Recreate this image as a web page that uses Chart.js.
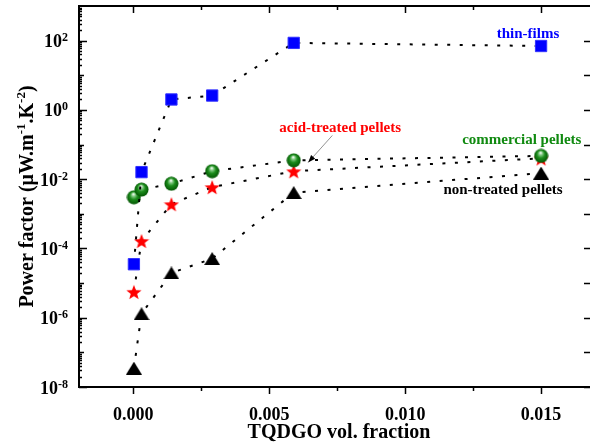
<!DOCTYPE html>
<html>
<head>
  <meta charset="utf-8">
  <title>Power factor vs TQDGO vol. fraction</title>
  <script src="https://cdn.jsdelivr.net/npm/chart.js"></script>
  <style>
    body { margin: 0; background: #fff; }
    #wrap { width: 590px; height: 447px; }
  </style>
</head>
<body>
  <div id="wrap"><canvas id="pf"></canvas></div>

  <script>
    // TQDGO volume fractions (same for every series)
    var fractions = [0.00002, 0.0003, 0.0014, 0.0029, 0.0059, 0.015];

    // power factor, uW m-1 K-2
    var thinFilms   = [3.5e-5, 0.016, 2.0, 2.6, 86, 70];
    var commercial  = [0.0030, 0.0050, 0.0074, 0.017, 0.035, 0.047];
    var acidTreated = [5.6e-6, 1.65e-4, 0.0019, 0.0059, 0.017, 0.040];
    var nonTreated  = [3.5e-8, 1.3e-6, 1.96e-5, 5.1e-5, 0.0041, 0.015];

    // axis ticks
    var xTicks = [0, 0.005, 0.010, 0.015];
    var yExponents = [-8, -6, -4, -2, 0, 2];

    // series labels written inside the plot (data coordinates)
    var notes = [
      { text: 'thin-films',          x: 0.01452, y: 159,   color: '#0000ff' },
      { text: 'acid-treated pellets', x: 0.00761, y: 0.29,  color: '#ff0000' },
      { text: 'commercial pellets',  x: 0.01429, y: 0.131, color: '#108a10' },
      { text: 'non-treated pellets', x: 0.0136,  y: 0.0048, color: '#000000' }
    ];
    var arrowFrom = { x: 0.00732, y: 0.183 };
    var arrowTo   = { x: 0.00643, y: 0.0305 };

    var FONT = "'Liberation Serif', 'Times New Roman', serif";

    // marker images
    function sphere(d) {
      var c = document.createElement('canvas');
      c.width = c.height = d;
      var g = c.getContext('2d');
      var r = d / 2;
      var grad = g.createRadialGradient(r - 0.5, r * 0.55, 0.3, r, r, r);
      grad.addColorStop(0, '#ffffff');
      grad.addColorStop(0.22, '#7fc87f');
      grad.addColorStop(0.5, '#1c8c1c');
      grad.addColorStop(1, '#005000');
      g.fillStyle = grad;
      g.beginPath();
      g.arc(r, r, r - 0.5, 0, Math.PI * 2);
      g.fill();
      return c;
    }

    function star(d, color) {
      var c = document.createElement('canvas');
      c.width = c.height = d;
      var g = c.getContext('2d');
      var cx = d / 2, cy = d / 2 + 0.9, R = d / 2, ri = R * 0.42;
      g.beginPath();
      for (var i = 0; i < 10; i++) {
        var ang = -Math.PI / 2 + i * Math.PI / 5;
        var rr = i % 2 === 0 ? R : ri;
        g.lineTo(cx + rr * Math.cos(ang), cy + rr * Math.sin(ang));
      }
      g.closePath();
      g.fillStyle = color;
      g.fill();
      return c;
    }

    function triangle(w, h) {
      var c = document.createElement('canvas');
      c.width = w; c.height = h;
      var g = c.getContext('2d');
      g.beginPath();
      g.moveTo(w / 2, 0);
      g.lineTo(w, h);
      g.lineTo(0, h);
      g.closePath();
      g.fillStyle = '#000';
      g.fill();
      return c;
    }

    function pts(ys) {
      return fractions.map(function (f, i) { return { x: f, y: ys[i] }; });
    }

    function series(label, ys, style, radius) {
      return {
        label: label,
        data: pts(ys),
        borderColor: '#000',
        borderWidth: 2,
        borderDash: [3, 9.5],
        fill: false,
        tension: 0,
        pointStyle: style,
        pointRadius: radius,
        pointBackgroundColor: '#0000ff',
        pointBorderColor: '#3030ff',
        pointBorderWidth: 1
      };
    }

    // frame, inward ticks, tick labels, titles and notes
    var decorations = {
      id: 'decorations',
      afterDraw: function (chart) {
        var ctx = chart.ctx, a = chart.chartArea;
        var xs = chart.scales.x, ys = chart.scales.y;
        ctx.save();
        ctx.strokeStyle = '#000';
        ctx.fillStyle = '#000';

        ctx.lineWidth = 2;
        ctx.beginPath();
        ctx.moveTo(a.left, a.top); ctx.lineTo(a.right, a.top);
        ctx.moveTo(a.left, a.top - 1); ctx.lineTo(a.left, a.bottom + 1);
        ctx.moveTo(a.left - 1, a.bottom); ctx.lineTo(a.right, a.bottom);
        ctx.stroke();

        // x ticks: out at bottom, in at top
        ctx.lineWidth = 1.5;
        ctx.beginPath();
        for (var i = 0; i <= 6; i++) {
          var px = Math.round(xs.getPixelForValue(i * 0.0025)) + 0.5;
          if (px > a.right) break;
          var len = i % 2 === 0 ? 7 : 4;
          ctx.moveTo(px, a.bottom); ctx.lineTo(px, a.bottom + len);
          ctx.moveTo(px, a.top); ctx.lineTo(px, a.top + len);
        }
        ctx.stroke();

        // y ticks: in at left (log minors), decade ticks in at right
        ctx.beginPath();
        for (var k = -8; k <= 2; k++) {
          for (var m = 1; m <= 9; m++) {
            var v = m * Math.pow(10, k);
            if (v > ys.max) break;
            var py = Math.round(ys.getPixelForValue(v)) + 0.5;
            var l = m === 1 ? (k % 2 === 0 ? 8 : 5) : 3;
            ctx.moveTo(a.left, py); ctx.lineTo(a.left + l, py);
            if (m === 1) { ctx.moveTo(a.right, py); ctx.lineTo(a.right - 6, py); }
          }
        }
        ctx.stroke();

        // y tick labels 10^n
        yExponents.forEach(function (e) {
          var py = ys.getPixelForValue(Math.pow(10, e));
          var ex = String(e);
          ctx.font = 'bold 12px ' + FONT;
          var ew = ctx.measureText(ex).width;
          ctx.textAlign = 'left';
          ctx.textBaseline = 'alphabetic';
          ctx.fillText(ex, a.left - 11 - ew, py + 0.5);
          ctx.font = 'bold 18px ' + FONT;
          ctx.textAlign = 'right';
          ctx.fillText('10', a.left - 11 - ew, py + 6.5);
        });

        // y axis title with superscripts
        ctx.save();
        ctx.translate(33, (a.top + a.bottom) / 2);
        ctx.rotate(-Math.PI / 2);
        var parts = [
          ['Power factor (\u03BCW.m', false], ['-1', true],
          ['.K', false], ['-2', true], [')', false]
        ];
        var total = 0;
        parts.forEach(function (p) {
          ctx.font = 'bold ' + (p[1] ? 13 : 20) + 'px ' + FONT;
          total += ctx.measureText(p[0]).width;
        });
        var cx = -total / 2;
        ctx.textAlign = 'left';
        ctx.textBaseline = 'alphabetic';
        parts.forEach(function (p) {
          ctx.font = 'bold ' + (p[1] ? 13 : 20) + 'px ' + FONT;
          ctx.fillText(p[0], cx, p[1] ? -8 : 0);
          cx += ctx.measureText(p[0]).width;
        });
        ctx.restore();

        // x axis title
        ctx.font = 'bold 20px ' + FONT;
        ctx.textAlign = 'center';
        ctx.textBaseline = 'alphabetic';
        ctx.fillText('TQDGO vol. fraction', 339, 438);

        // series notes
        ctx.font = 'bold 15px ' + FONT;
        ctx.textBaseline = 'middle';
        notes.forEach(function (n) {
          ctx.fillStyle = n.color;
          ctx.fillText(n.text, xs.getPixelForValue(n.x), ys.getPixelForValue(n.y));
        });

        // arrow to the acid-treated point
        var x1 = xs.getPixelForValue(arrowFrom.x), y1 = ys.getPixelForValue(arrowFrom.y);
        var x2 = xs.getPixelForValue(arrowTo.x), y2 = ys.getPixelForValue(arrowTo.y);
        ctx.strokeStyle = '#777';
        ctx.lineWidth = 0.8;
        ctx.beginPath(); ctx.moveTo(x1, y1); ctx.lineTo(x2, y2); ctx.stroke();
        var ang = Math.atan2(y2 - y1, x2 - x1);
        ctx.fillStyle = '#000';
        ctx.beginPath();
        ctx.moveTo(x2, y2);
        ctx.lineTo(x2 - 8 * Math.cos(ang - 0.35), y2 - 8 * Math.sin(ang - 0.35));
        ctx.lineTo(x2 - 8 * Math.cos(ang + 0.35), y2 - 8 * Math.sin(ang + 0.35));
        ctx.closePath();
        ctx.fill();

        ctx.restore();
      }
    };

    var pfChart = new Chart(document.getElementById('pf'), {
      type: 'line',
      data: {
        datasets: [
          series('thin-films', thinFilms, 'rect', 8),
          series('commercial pellets', commercial, sphere(15), 7),
          series('acid-treated pellets', acidTreated, star(16, '#ff0000'), 8),
          series('non-treated pellets', nonTreated, triangle(16, 13), 8)
        ]
      },
      options: {
        responsive: true,
        maintainAspectRatio: false,
        animation: false,
        events: [],
        layout: { autoPadding: false, padding: { top: 6, right: 0, left: 0, bottom: 0 } },
        plugins: { legend: { display: false }, tooltip: { enabled: false } },
        scales: {
          x: {
            type: 'linear',
            min: -0.002,
            max: 0.0168,
            grid: { display: false },
            border: { display: false },
            afterBuildTicks: function (scale) {
              scale.ticks = xTicks.map(function (v) { return { value: v }; });
            },
            afterFit: function (scale) {
              scale.height = 60;
              scale.paddingLeft = 0;
              scale.paddingRight = 0;
            },
            ticks: {
              padding: 10,
              color: '#000',
              font: { family: FONT, size: 18, weight: 'bold' },
              callback: function (v) { return Number(v).toFixed(3); }
            }
          },
          y: {
            type: 'logarithmic',
            min: 1e-8,
            max: 1000,
            grid: { display: false },
            border: { display: false },
            ticks: { display: false },
            afterFit: function (scale) {
              scale.width = 79;
              scale.paddingTop = 0;
              scale.paddingBottom = 0;
            }
          }
        }
      },
      plugins: [decorations]
    });
  </script>
</body>
</html>
